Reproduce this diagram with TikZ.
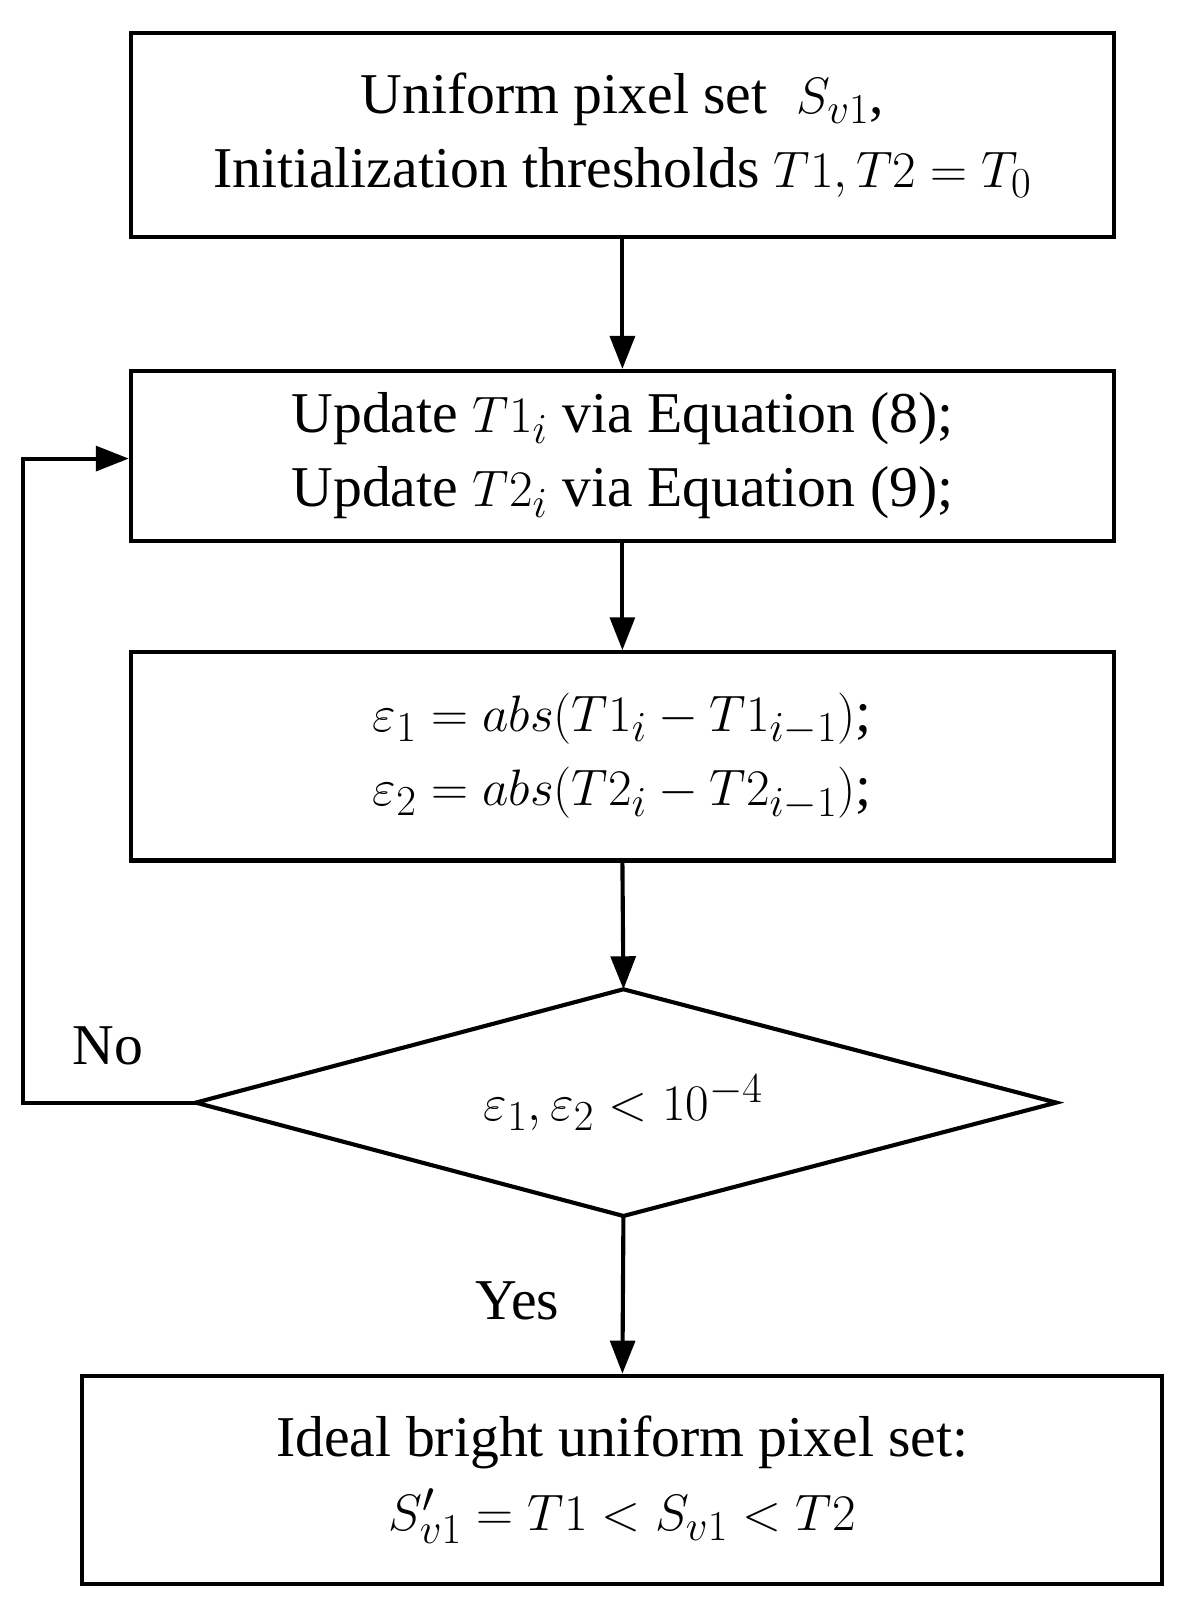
\documentclass[tikz,border=0pt]{standalone}
\usepackage{fontspec}
\setmainfont{Liberation Serif}
\usetikzlibrary{shapes.geometric,arrows.meta}
\begin{document}
\begin{tikzpicture}[x=0.5pt,y=-0.5pt,
  box/.style={draw,line width=2pt,inner sep=0pt,font=\fontsize{28}{36}\selectfont,align=center},
  arr/.style={line width=2pt,-{Triangle[length=16pt,width=12pt]}}]
\useasboundingbox (0,0) rectangle (1160,1575);
\node[box,minimum width=477pt,minimum height=99pt] (b1) at (604,131) {Uniform pixel set \ $S_{v1}$,\\Initialization thresholds $T1,T2=T_0$};
\node[box,minimum width=477pt,minimum height=82.5pt] (b2) at (604,442.5) {Update $T1_i$ via Equation (8);\\Update $T2_i$ via Equation (9);};
\node[box,minimum width=477pt,minimum height=101pt] (b3) at (604,734) {$\varepsilon_1=abs(T1_i-T1_{i-1})$;\\$\varepsilon_2=abs(T2_i-T2_{i-1})$;};
\draw[line width=2pt] (190,1070) coordinate (dl) -- (605,960) coordinate (dt) -- (1025,1070) coordinate (dr) -- (605,1180) coordinate (db) -- cycle;
\node[font=\fontsize{28}{36}\selectfont] (dc) at (605,1070) {$\varepsilon_1,\varepsilon_2<10^{-4}$};
\node[box,minimum width=524pt,minimum height=101pt] (b5) at (604,1436) {Ideal bright uniform pixel set:\\$S'_{v1}=T1<S_{v1}<T2$};
\draw[arr] (b1.south) -- (b2.north);
\draw[arr] (b2.south) -- (b3.north);
\draw[arr] (b3.south) -- (dt);
\draw[arr] (db) -- (b5.north);
\coordinate (c1) at (22,1070);
\coordinate (c2) at (22,445);
\draw[arr] (dl) -- (c1) -- (c2) -- (b2.west|-c2);
\node[font=\fontsize{28}{30}\selectfont] (no) at (105,1015) {No};
\node[font=\fontsize{28}{30}\selectfont] (yes) at (502,1262) {Yes};
\end{tikzpicture}
\end{document}
